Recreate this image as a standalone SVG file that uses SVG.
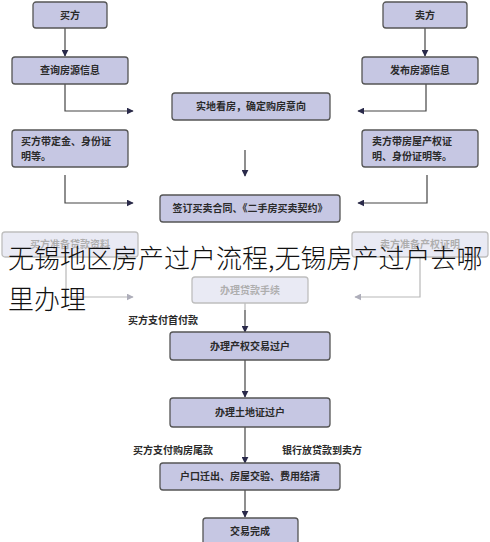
<svg xmlns="http://www.w3.org/2000/svg" width="490" height="542" viewBox="0 0 490 542">
<defs>
<marker id="ah" viewBox="0 0 10 10" refX="9" refY="5" markerWidth="7" markerHeight="7" orient="auto" markerUnits="userSpaceOnUse">
<path d="M0,0 L10,5 L0,10 z" fill="#2a2a4a"/>
</marker>
<style>
.box{fill:#c6c7e3;stroke:#555;stroke-width:1.3}
.t{font-family:"Noto Sans CJK SC","Noto Sans",sans-serif;font-size:10px;font-weight:bold;fill:#2a2a2a}
.tm{text-anchor:middle}
.c{fill:none;stroke:#444;stroke-width:1.2}
.title{font-family:"Noto Sans CJK SC","Noto Sans",sans-serif;font-size:26px;font-weight:300;fill:#111}
</style>
</defs>
<rect width="490" height="542" fill="#fff"/>
<g id="connectors">
<path class="c" d="M65,28 V56" marker-end="url(#ah)"/>
<path class="c" d="M425,28 V56" marker-end="url(#ah)"/>
<path class="c" d="M65,84 V111 H133" marker-end="url(#ah)"/>
<path class="c" d="M426,84 V111 H358" marker-end="url(#ah)"/>
<path class="c" d="M245,150 V176" marker-end="url(#ah)"/>
<path class="c" d="M65,175 V203 H133" marker-end="url(#ah)"/>
<path class="c" d="M427,175 V203 H358" marker-end="url(#ah)"/>
<path class="c" d="M66,257 V297 H133" marker-end="url(#ah)"/>
<path class="c" d="M420,257 V297 H355" marker-end="url(#ah)"/>
<path class="c" d="M245,303 V332" marker-end="url(#ah)"/>
<path class="c" d="M245,360 V397" marker-end="url(#ah)"/>
<path class="c" d="M245,427 V463" marker-end="url(#ah)"/>
<path class="c" d="M245,490 V517" marker-end="url(#ah)"/>
</g>
<g id="n1"><rect class="box" x="33" y="2" width="74" height="26" rx="3"/><text class="t tm" x="70" y="19">买方</text></g>
<g id="n2"><rect class="box" x="383" y="2" width="84" height="26" rx="3"/><text class="t tm" x="425" y="19">卖方</text></g>
<g id="n3"><rect class="box" x="12" y="57" width="116" height="27" rx="3"/><text class="t tm" x="70" y="74">查询房源信息</text></g>
<g id="n4"><rect class="box" x="362" y="57" width="116" height="27" rx="3"/><text class="t tm" x="420" y="74">发布房源信息</text></g>
<g id="n5"><rect class="box" x="172" y="93" width="158" height="27" rx="3"/><text class="t tm" x="251" y="110">实地看房，确定购房意向</text></g>
<g id="n6"><rect class="box" x="12" y="130" width="116" height="37" rx="3"/><text class="t" x="21" y="145">买方带定金、身份证</text><text class="t" x="21" y="160">明等。</text></g>
<g id="n7"><rect class="box" x="362" y="130" width="116" height="37" rx="3"/><text class="t" x="372" y="145">卖方带房屋产权证</text><text class="t" x="372" y="160">明、身份证明等。</text></g>
<g id="n8"><rect class="box" x="160" y="195" width="180" height="27" rx="3"/><text class="t tm" x="250" y="212">签订买卖合同、《二手房买卖契约》</text></g>
<g id="n9"><rect class="box" x="2" y="232" width="136" height="25" rx="3"/><text class="t tm" x="70" y="248">买方准备贷款资料</text></g>
<g id="n10"><rect class="box" x="352" y="232" width="136" height="25" rx="3"/><text class="t tm" x="420" y="248">卖方准备产权证明</text></g>
<g id="n11"><rect class="box" x="192" y="277" width="116" height="26" rx="3"/><text class="t tm" x="250" y="294">办理贷款手续</text></g>
<rect x="0" y="228" width="490" height="82" fill="#fff" opacity="0.62"/>
<text class="t" x="128" y="324">买方支付首付款</text>
<g id="n12"><rect class="box" x="170" y="332" width="160" height="28" rx="3"/><text class="t tm" x="250" y="350">办理产权交易过户</text></g>
<g id="n13"><rect class="box" x="170" y="398" width="160" height="29" rx="3"/><text class="t tm" x="250" y="416">办理土地证过户</text></g>
<text class="t" x="133" y="454">买方支付购房尾款</text>
<text class="t" x="282" y="454">银行放贷款到卖方</text>
<g id="n14"><rect class="box" x="160" y="463" width="180" height="27" rx="3"/><text class="t tm" x="250" y="480">户口迁出、房屋交验、费用结清</text></g>
<g id="n15"><rect class="box" x="203" y="518" width="95" height="30" rx="3"/><text class="t tm" x="250" y="535">交易完成</text></g>
<text class="title" x="8" y="268">无锡地区房产过户流程,无锡房产过户去哪</text>
<text class="title" x="8" y="309">里办理</text>
</svg>
